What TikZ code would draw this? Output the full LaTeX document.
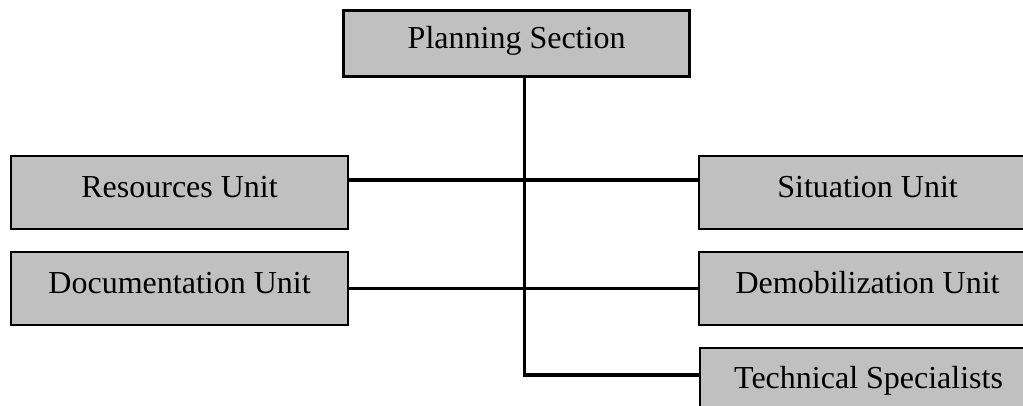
\documentclass[tikz,border=0pt]{standalone}
\usepackage{fontspec}
\setmainfont{Liberation Serif}
\definecolor{boxgray}{HTML}{C0C0C0}
\begin{document}
\begin{tikzpicture}[x=0.75pt,y=-0.75pt,
  unitbox/.style={draw=black, fill=boxgray, line width=1.6pt, inner xsep=0pt, inner ysep=0pt,
    minimum width=252.75pt, text height=30.75pt, text depth=24pt, anchor=north west,
    font=\fontsize{24}{28}\selectfont},
  headbox/.style={unitbox, line width=2.4pt, minimum width=259.5pt,
    text height=28.5pt, text depth=21pt},
  link/.style={line width=2.6pt}]
  \useasboundingbox (0,0) rectangle (1023,406);
  \clip (0,0) rectangle (1023,406);

  % section head
  \node[headbox] (plan) at (342,9) {Planning Section};

  % units on the left
  \node[unitbox] (res) at (10,155) {Resources Unit};
  \node[unitbox] (doc) at (10,251) {Documentation Unit};

  % units on the right
  \node[unitbox] (sit) at (698,155) {Situation Unit};
  \node[unitbox] (demob) at (698,251) {Demobilization Unit};
  \node[unitbox, text height=30pt, text depth=24.75pt] (tech) at (699,347) {Technical Specialists};

  % connectors
  \draw[link] ([yshift=9.4pt]res.east) -- ([yshift=9.4pt]sit.west);
  \draw[link] (doc.east) -- (demob.west);
  \draw[link] ([xshift=6pt]plan.south) -- ([xshift=6pt,yshift=-21pt]plan.south |- tech.north west)
    -- ([yshift=-21pt]tech.north west);
\end{tikzpicture}
\end{document}
